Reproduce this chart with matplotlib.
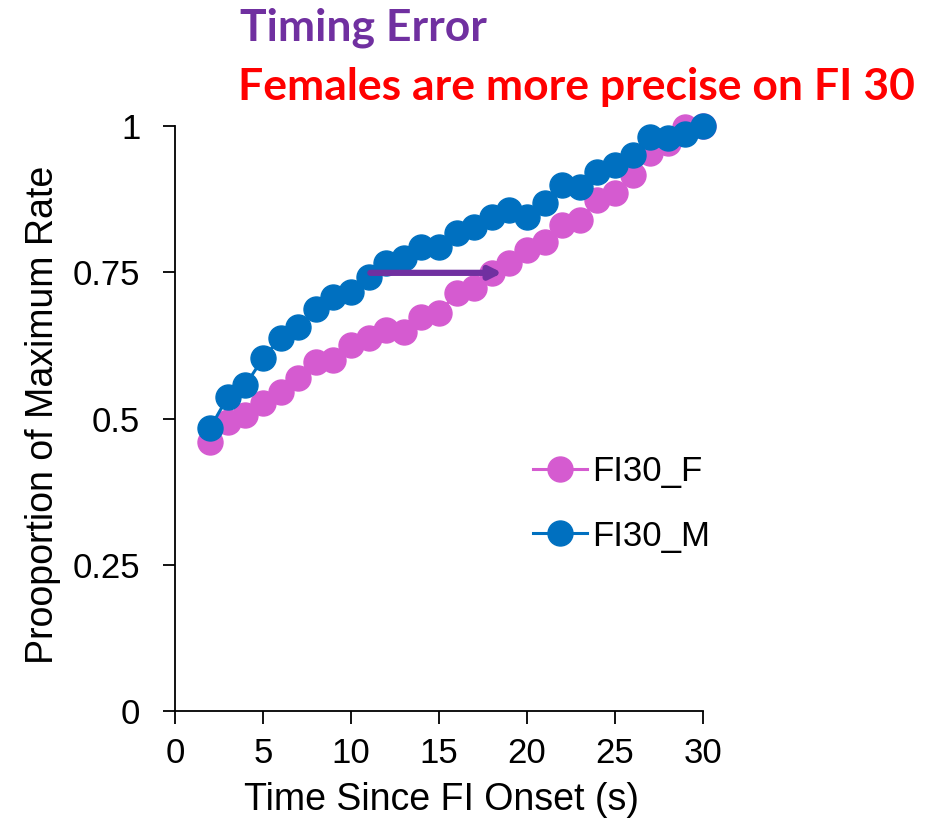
#!/usr/bin/env python3
"""Proportion of maximum response rate across the FI 30 interval, by sex."""

import matplotlib

matplotlib.use("Agg")
import matplotlib.pyplot as plt

TIME_S = list(range(2, 31))
FI30_F = [0.460, 0.494, 0.506, 0.526, 0.545, 0.569, 0.597, 0.600, 0.626, 0.638,
          0.651, 0.648, 0.674, 0.680, 0.715, 0.723, 0.749, 0.766, 0.788, 0.802,
          0.831, 0.839, 0.873, 0.885, 0.916, 0.954, 0.971, 0.998, 1.000]
FI30_M = [0.484, 0.537, 0.557, 0.603, 0.638, 0.656, 0.687, 0.708, 0.716, 0.742,
          0.766, 0.774, 0.793, 0.793, 0.817, 0.827, 0.844, 0.856, 0.844, 0.868,
          0.899, 0.896, 0.921, 0.933, 0.950, 0.981, 0.979, 0.987, 1.000]
ARROW_X = (11.1, 18.6)
ARROW_Y = 0.749

X_TICKS = [0, 5, 10, 15, 20, 25, 30]
Y_TICKS = [0, 0.25, 0.5, 0.75, 1]
Y_TICK_LABELS = ["0", "0.25", "0.5", "0.75", "1"]

PINK = "#D55BD0"
BLUE = "#0070C0"
PURPLE = "#7030A0"

plt.rcParams["font.family"] = ["Liberation Sans", "DejaVu Sans"]

fig = plt.figure(figsize=(9.41, 8.25), dpi=100)
ax = fig.add_axes([175 / 941, 114 / 825, 528 / 941, 585 / 825])

ax.plot(TIME_S, FI30_F, color=PINK, marker="o", markersize=18, linewidth=2.2,
        label="FI30_F", zorder=3, clip_on=False)
ax.plot(TIME_S, FI30_M, color=BLUE, marker="o", markersize=18, linewidth=2.2,
        label="FI30_M", zorder=4, clip_on=False)

ax.annotate("", xy=(ARROW_X[1], ARROW_Y), xytext=(ARROW_X[0], ARROW_Y),
            arrowprops=dict(arrowstyle="-|>,head_length=0.7,head_width=0.35",
                            color=PURPLE, lw=4.5, shrinkA=0, shrinkB=0),
            zorder=5)

ax.set_xlim(0, 30)
ax.set_ylim(0, 1)
ax.set_xticks(X_TICKS)
ax.set_yticks(Y_TICKS)
ax.set_yticklabels(Y_TICK_LABELS)
ax.tick_params(labelsize=25, length=9, width=1.3, color="black")
ax.tick_params(axis="x", pad=10)
ax.tick_params(axis="y", pad=16)
for side in ("top", "right"):
    ax.spines[side].set_visible(False)
for side in ("left", "bottom"):
    ax.spines[side].set_linewidth(1.3)

ax.set_xlabel("Time Since FI Onset (s)", fontsize=27)
ax.set_ylabel("Prooportion of Maximum Rate", fontsize=27)
ax.xaxis.set_label_coords(0.504, -0.122)
ax.yaxis.set_label_coords(-0.215, 0.506)

fig.legend(loc="center left", bbox_to_anchor=(519 / 941, 1 - 504 / 825),
           frameon=False, fontsize=25, handlelength=1.56, handletextpad=0.15,
           labelspacing=0.9, borderaxespad=0)

fig.text(240 / 941, 1 - 40 / 825, "Timing Error", color=PURPLE, fontsize=32,
         fontweight="bold", family=["Lato", "DejaVu Sans"], va="baseline", ha="left")
fig.text(238 / 941, 1 - 100 / 825, "Females are more precise on FI 30", color="#FF0000",
         fontsize=32, fontweight="bold", family=["Lato", "DejaVu Sans"],
         va="baseline", ha="left")

fig.savefig("out.png", dpi=100)
plt.close(fig)
